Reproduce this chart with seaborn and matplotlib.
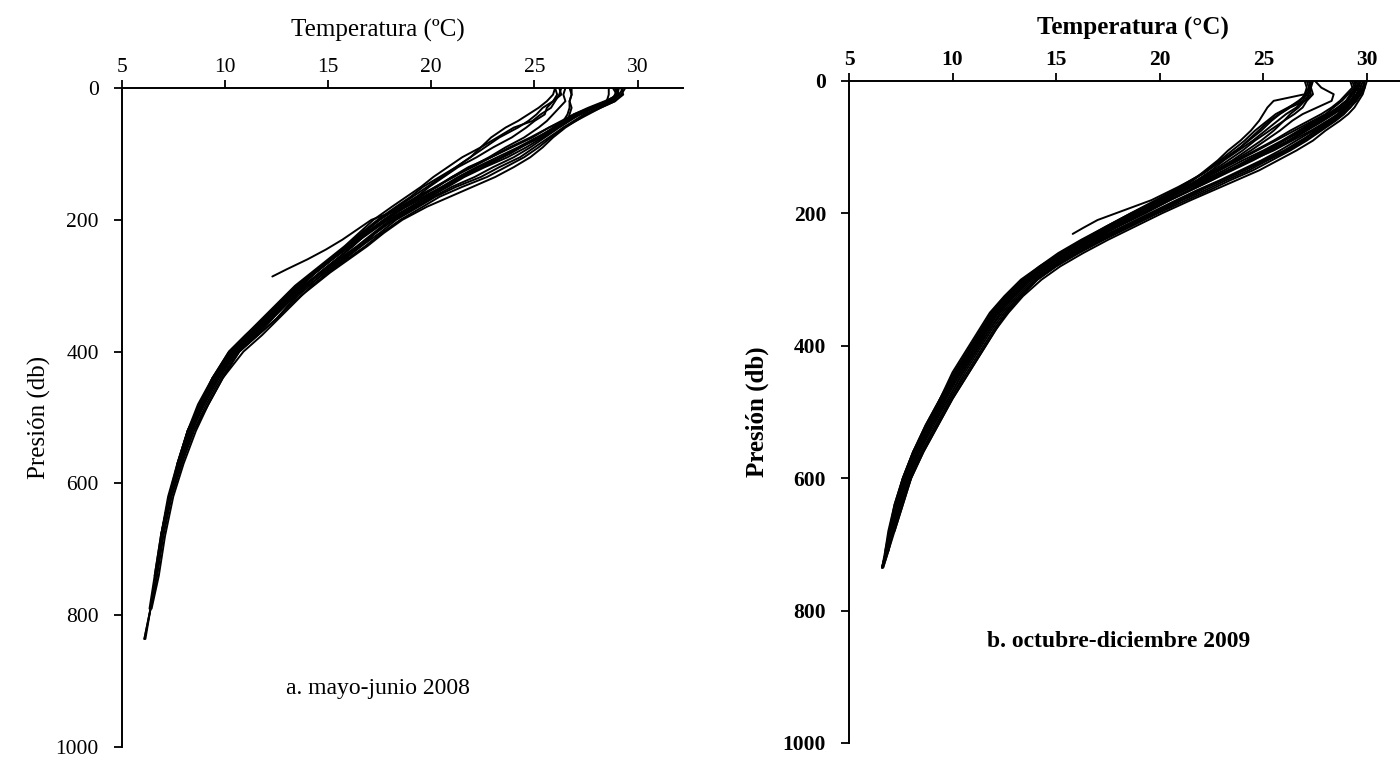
import numpy as np
import pandas as pd
import seaborn as sns
import matplotlib.pyplot as plt

sns.set_theme(style="ticks")
plt.rcParams['font.family'] = ['Liberation Serif', 'DejaVu Serif']
plt.rcParams['axes.edgecolor'] = 'black'
plt.rcParams['xtick.color'] = 'black'
plt.rcParams['ytick.color'] = 'black'
plt.rcParams['text.color'] = 'black'
plt.rcParams['axes.labelcolor'] = 'black'

# ---------------- panel a: mayo-junio 2008 ----------------
presion_a = [0, 10, 20, 30, 40, 50, 60, 75, 90, 105, 120, 135, 150, 165, 180, 200, 220, 240,
             260, 280, 300, 325, 350, 375, 400, 440, 480, 520, 570, 620, 680, 740, 790, 836]

a01 = [29.1, 29.0, 28.6, 27.9, 27.2, 26.7, 26.2, 25.5, 24.8, 24.0, 23.0, 22.1, 21.0, 20.1, 19.3, 18.2, 17.3, 16.6, 15.7, 14.8, 14.1, 13.2, 12.5, 11.6, 10.7, 9.8, 9.1, 8.5, 7.9, 7.4, 7.0, 6.7, 6.4, 6.1]
a02 = [29.3, 29.1, 28.8, 28.1, 27.4, 26.9, 26.4, 25.8, 25.2, 24.5, 23.6, 22.7, 21.5, 20.4, 19.6, 18.5, 17.6, 16.8, 15.9, 15.0, 14.2, 13.4, 12.6, 11.8, 10.9, 9.9, 9.2, 8.6, 8.0, 7.5, 7.1, 6.8, 6.45]
a03 = [28.9, 29.1, 28.4, 27.6, 26.9, 26.4, 25.9, 25.2, 24.3, 23.4, 22.3, 21.4, 20.6, 19.8, 19.0, 17.9, 17.0, 16.1, 15.2, 14.4, 13.7, 12.8, 12.0, 11.2, 10.4, 9.6, 8.9, 8.3, 7.8, 7.3, 6.95, 6.65]
a04 = [28.6, 28.6, 28.5, 27.8, 27.1, 26.6, 26.1, 25.4, 24.6, 23.7, 22.6, 21.6, 20.8, 19.9, 19.2, 18.1, 17.3, 16.5, 15.6, 14.7, 13.8, 12.9, 12.2, 11.3, 10.5, 9.6, 8.9, 8.3, 7.8, 7.3, 6.9]
a05 = [29.2, 29.3, 28.9, 28.2, 27.5, 27.0, 26.5, 25.9, 25.4, 24.8, 24.0, 23.1, 22.0, 20.9, 19.8, 18.6, 17.7, 16.9, 16.0, 15.1, 14.3, 13.3, 12.5, 11.6, 10.7, 9.9, 9.2, 8.5, 7.9, 7.4, 7.0, 6.7, 6.4, 6.15]
a06 = [29.0, 28.9, 28.7, 27.8, 27.0, 26.5, 26.0, 25.1, 24.2, 23.2, 22.2, 21.3, 20.5, 19.7, 18.8, 17.8, 16.9, 16.2, 15.4, 14.6, 13.8, 12.9, 12.1, 11.3, 10.4, 9.5, 8.8, 8.3, 7.8, 7.3, 6.95]
a07 = [29.4, 29.2, 28.9, 28.2, 27.6, 27.0, 26.4, 25.7, 25.0, 24.3, 23.3, 22.4, 21.2, 20.2, 19.4, 18.3, 17.5, 16.6, 15.8, 14.9, 14.0, 13.1, 12.3, 11.5, 10.6, 9.7, 9.0, 8.4, 7.9, 7.35]
a08 = [28.8, 29.0, 28.5, 27.7, 26.9, 26.3, 25.7, 24.9, 23.9, 22.9, 21.8, 21.0, 20.2, 19.3, 18.5, 17.5, 16.7, 15.9, 15.1, 14.3, 13.5, 12.7, 11.9, 11.0, 10.2, 9.4, 8.8, 8.2, 7.75]
a09 = [26.0, 26.1, 25.9, 25.6, 25.5, 25.0, 24.6, 23.9, 23.0, 22.2, 21.3, 20.6, 19.9, 19.3, 18.6, 17.7, 16.9, 16.2, 15.4, 14.6, 13.9, 13.0, 12.3, 11.5, 10.6, 9.7, 9.0, 8.4, 7.9, 7.4, 7.0, 6.7, 6.4]
a10 = [26.2, 26.3, 25.9, 25.4, 25.1, 24.7, 24.2, 23.3, 22.6, 21.9, 21.2, 20.4, 19.6, 19.0, 18.3, 17.4, 16.6, 15.9, 15.1, 14.3, 13.6, 12.8, 12.0, 11.2, 10.3, 9.5, 8.8, 8.2, 7.7, 7.25, 6.9, 6.6]
a11 = [26.5, 26.4, 26.5, 26.2, 25.9, 25.6, 25.2, 24.5, 23.6, 22.8, 21.9, 21.1, 20.2, 19.5, 18.7, 17.8, 16.9, 16.0, 15.2, 14.4, 13.7, 12.9, 12.0, 11.2, 10.4, 9.5, 8.9, 8.3, 7.8, 7.3]
a12 = [26.8, 26.8, 26.7, 26.8, 26.7, 26.6, 26.0, 25.3, 24.3, 23.4, 22.5, 21.5, 20.7, 20.0, 19.1, 18.0, 17.2, 16.4, 15.5, 14.7, 13.9, 13.0, 12.2, 11.4, 10.5, 9.6, 8.9, 8.4, 7.9, 7.4, 7.0, 6.7, 6.4, 6.1]
a13 = [26.7, 26.8, 26.7, 26.7, 26.6, 26.4, 25.7, 24.8, 23.8, 22.9, 22.0, 21.0, 20.3, 19.4, 18.7, 17.7, 16.8, 16.0, 15.2, 14.4, 13.6, 12.8, 12.0, 11.2, 10.3, 9.5, 8.8, 8.3, 7.8, 7.3, 6.9, 6.6, 6.35]
a14 = [26.3, 26.2, 26.0, 25.8, 25.3, 24.9, 24.0, 23.2, 22.4, 21.5, 20.8, 20.1, 19.5, 18.8, 18.1, 17.2, 16.5, 15.8, 15.0, 14.2, 13.4, 12.6, 11.8, 11.0, 10.2, 9.4, 8.7, 8.2, 7.7]
a15 = [26.0, 25.9, 25.6, 25.2, 24.7, 24.2, 23.6, 22.9, 22.4, 21.9, 21.2, 20.5, 19.8, 19.1, 18.4, 17.5, 16.7, 15.9, 15.1, 14.3, 13.5, 12.7, 11.9, 11.1, 10.3, 9.4, 8.8, 8.2, 7.7, 7.3, 6.9]
# short profile ending near 286 db
presion_a16 = [0, 10, 20, 30, 45, 60, 80, 100, 120, 140, 160, 180, 200, 215, 230, 245, 260, 275, 286]
a16 = [29.0, 29.1, 28.7, 27.9, 26.9, 26.0, 24.9, 23.8, 22.5, 21.2, 19.9, 18.8, 17.1, 16.4, 15.7, 14.9, 14.0, 13.0, 12.3]

perfiles_a = [(presion_a, a01), (presion_a, a02), (presion_a, a03), (presion_a, a04),
              (presion_a, a05), (presion_a, a06), (presion_a, a07), (presion_a, a08),
              (presion_a, a09), (presion_a, a10), (presion_a, a11), (presion_a, a12),
              (presion_a, a13), (presion_a, a14), (presion_a, a15), (presion_a16, a16)]

# ---------------- panel b: octubre-diciembre 2009 ----------------
presion_b = [0, 10, 20, 30, 40, 50, 60, 75, 90, 105, 120, 135, 150, 165, 180, 200, 220, 240,
             260, 280, 300, 325, 350, 375, 400, 440, 480, 520, 560, 600, 640, 680, 710, 735]

b01 = [29.9, 29.8, 29.7, 29.5, 29.2, 28.9, 28.5, 27.8, 27.1, 26.3, 25.4, 24.5, 23.4, 22.4, 21.3, 19.9, 18.6, 17.3, 16.1, 15.0, 14.1, 13.3, 12.6, 12.1, 11.6, 10.8, 10.0, 9.3, 8.6, 8.0, 7.6, 7.2, 6.9, 6.65]
b02 = [29.4, 29.5, 29.2, 29.0, 28.6, 28.1, 27.5, 26.7, 25.9, 25.0, 24.0, 23.1, 22.1, 21.2, 20.2, 18.9, 17.7, 16.5, 15.3, 14.3, 13.4, 12.6, 11.9, 11.4, 10.9, 10.1, 9.5, 8.8, 8.2, 7.7, 7.3, 7.0, 6.8, 6.6]
b03 = [29.7, 29.6, 29.5, 29.3, 29.1, 28.7, 28.3, 27.5, 26.9, 26.1, 25.1, 24.1, 23.0, 21.9, 20.9, 19.6, 18.3, 17.0, 15.8, 14.8, 13.9, 13.1, 12.4, 11.8, 11.3, 10.5, 9.8, 9.1, 8.4, 7.9, 7.5, 7.1, 6.9]
b04 = [29.3, 29.4, 29.1, 28.8, 28.4, 28.0, 27.4, 26.5, 25.6, 24.7, 23.8, 22.9, 22.0, 21.0, 20.0, 18.7, 17.5, 16.4, 15.3, 14.3, 13.5, 12.7, 12.0, 11.5, 11.0, 10.2, 9.5, 8.9, 8.2, 7.7, 7.3]
b05 = [30.0, 29.9, 29.8, 29.6, 29.4, 29.1, 28.7, 28.0, 27.4, 26.6, 25.7, 24.8, 23.7, 22.6, 21.5, 20.1, 18.8, 17.5, 16.3, 15.2, 14.3, 13.4, 12.7, 12.1, 11.6, 10.8, 10.0, 9.3, 8.6, 8.0, 7.6, 7.2]
b06 = [29.5, 29.6, 29.3, 29.1, 28.8, 28.3, 27.8, 27.0, 26.2, 25.3, 24.3, 23.4, 22.4, 21.4, 20.4, 19.1, 17.8, 16.6, 15.5, 14.5, 13.6, 12.8, 12.1, 11.6, 11.1, 10.3, 9.6, 8.9, 8.3, 7.8, 7.4, 7.05, 6.8, 6.6]
b07 = [29.8, 29.7, 29.6, 29.4, 29.0, 28.6, 28.2, 27.4, 26.6, 25.8, 24.9, 23.9, 22.9, 21.8, 20.8, 19.5, 18.2, 16.9, 15.7, 14.7, 13.8, 13.0, 12.3, 11.8, 11.3, 10.5, 9.8, 9.0, 8.4, 7.9, 7.5]
b08 = [29.2, 29.3, 29.0, 28.7, 28.3, 27.8, 27.2, 26.3, 25.5, 24.6, 23.7, 22.8, 21.9, 20.9, 19.9, 18.6, 17.4, 16.2, 15.1, 14.2, 13.3, 12.5, 11.8, 11.3, 10.8, 10.0, 9.4, 8.7, 8.1, 7.6, 7.2, 6.95, 6.75, 6.6]
b09 = [29.6, 29.7, 29.5, 29.2, 28.9, 28.4, 27.9, 27.1, 26.3, 25.4, 24.5, 23.5, 22.5, 21.5, 20.5, 19.2, 17.9, 16.7, 15.5, 14.5, 13.6, 12.8, 12.1, 11.6, 11.1, 10.3, 9.6, 8.9, 8.3, 7.8]
b10 = [29.9, 29.8, 29.6, 29.3, 29.0, 28.7, 28.3, 27.6, 26.8, 26.0, 25.0, 24.0, 23.0, 22.0, 21.0, 19.7, 18.4, 17.1, 15.9, 14.9, 14.0, 13.2, 12.5, 11.9, 11.4, 10.6, 9.9, 9.2, 8.5, 8.0, 7.5, 7.15, 6.9, 6.65]
b11 = [29.4, 29.5, 29.3, 29.0, 28.7, 28.2, 27.7, 26.9, 26.0, 25.1, 24.2, 23.3, 22.3, 21.2, 20.2, 18.9, 17.6, 16.4, 15.4, 14.4, 13.5, 12.7, 12.0, 11.5, 11.0, 10.2, 9.5, 8.8, 8.2, 7.7, 7.3, 7.0]
b12 = [29.7, 29.5, 29.4, 29.2, 28.9, 28.6, 28.1, 27.3, 26.4, 25.5, 24.4, 23.3, 22.2, 21.1, 20.1, 18.8, 17.6, 16.5, 15.4, 14.4, 13.6, 12.8, 12.1, 11.6, 11.1, 10.3, 9.6, 8.9, 8.3]
b13 = [29.5, 29.4, 29.3, 29.0, 28.6, 28.2, 27.6, 26.8, 26.0, 25.2, 24.3, 23.4, 22.5, 21.5, 20.5, 19.3, 18.0, 16.8, 15.6, 14.6, 13.7, 12.9, 12.2, 11.7, 11.2, 10.4, 9.7, 9.0, 8.3, 7.8, 7.4, 7.1, 6.85]
b14 = [29.8, 29.9, 29.7, 29.4, 29.2, 28.8, 28.4, 27.7, 27.0, 26.2, 25.2, 24.3, 23.2, 22.2, 21.1, 19.8, 18.5, 17.2, 16.0, 15.0, 14.1, 13.3, 12.6, 12.0, 11.5, 10.7, 9.9, 9.2, 8.5, 7.95, 7.5, 7.15]
b15 = [27.1, 27.2, 27.0, 25.5, 25.2, 25.0, 24.8, 24.4, 23.9, 23.3, 22.8, 22.2, 21.6, 20.9, 20.1, 19.0, 17.8, 16.6, 15.4, 14.4, 13.5, 12.7, 12.0, 11.5, 11.0, 10.2, 9.5, 8.8, 8.2, 7.7, 7.3, 7.0, 6.8, 6.6]
b16 = [27.3, 27.3, 27.2, 27.0, 26.3, 25.8, 25.4, 24.9, 24.3, 23.7, 23.0, 22.3, 21.5, 20.7, 19.8, 18.6, 17.4, 16.3, 15.2, 14.2, 13.4, 12.6, 11.9, 11.4, 10.9, 10.1, 9.4, 8.8, 8.1, 7.6, 7.25]
b17 = [27.4, 27.3, 27.4, 27.1, 26.9, 26.5, 26.0, 25.3, 24.6, 24.0, 23.3, 22.6, 21.8, 21.0, 20.1, 18.8, 17.6, 16.5, 15.4, 14.4, 13.5, 12.7, 12.0, 11.5, 11.0, 10.2, 9.5, 8.9, 8.2, 7.7]
b18 = [27.5, 27.8, 28.4, 28.3, 27.6, 26.9, 26.4, 25.8, 25.1, 24.4, 23.6, 22.8, 22.0, 21.1, 20.2, 19.0, 17.7, 16.6, 15.5, 14.5, 13.6, 12.8, 12.1, 11.6, 11.1, 10.3, 9.6, 8.9, 8.3, 7.8, 7.4, 7.1]
b19 = [27.0, 27.1, 27.0, 26.8, 26.2, 25.6, 25.2, 24.6, 24.1, 23.5, 22.9, 22.3, 21.6, 20.8, 20.0, 18.8, 17.6, 16.4, 15.3, 14.3, 13.4, 12.6, 11.9, 11.4, 10.9, 10.1, 9.4, 8.7, 8.1, 7.6, 7.2, 6.9, 6.75]
b20 = [27.2, 27.3, 27.1, 26.9, 26.6, 26.1, 25.7, 25.1, 24.5, 23.8, 23.1, 22.5, 21.8, 21.0, 20.2, 19.1, 17.9, 16.7, 15.6, 14.6, 13.7, 12.9, 12.2, 11.7, 11.2, 10.4, 9.6, 8.9, 8.3]
b21 = [27.3, 27.2, 27.3, 27.0, 26.7, 26.3, 26.0, 25.5, 24.9, 24.2, 23.5, 22.7, 21.9, 21.1, 20.3, 19.1, 17.9, 16.8, 15.6, 14.6, 13.7, 12.9, 12.2, 11.6, 11.1, 10.3, 9.6, 9.0, 8.3, 7.8, 7.4, 7.05, 6.8, 6.6]
# short profile ending near 231 db
presion_b22 = [0, 10, 20, 30, 45, 60, 80, 100, 120, 140, 160, 180, 195, 210, 222, 231]
b22 = [27.2, 27.3, 27.1, 26.7, 26.0, 25.3, 24.6, 23.9, 23.0, 22.1, 20.9, 19.6, 18.3, 17.0, 16.3, 15.8]

perfiles_b = [(presion_b, b) for b in [b01, b02, b03, b04, b05, b06, b07, b08, b09, b10, b11,
                                        b12, b13, b14, b15, b16, b17, b18, b19, b20, b21]]
perfiles_b.append((presion_b22, b22))

ticks_x = [5, 10, 15, 20, 25, 30]
ticks_y = [0, 200, 400, 600, 800, 1000]


def tabla(perfiles):
    partes = []
    for i, (pres, temp) in enumerate(perfiles):
        n = len(temp)
        partes.append(pd.DataFrame({'perfil': i, 'temperatura': temp, 'presion': pres[:n]}))
    return pd.concat(partes, ignore_index=True)


df_a = tabla(perfiles_a)
df_b = tabla(perfiles_b)

fig = plt.figure(figsize=(14, 7.57), dpi=100)
ax1 = fig.add_axes([0.0869, 0.0132, 0.401, 0.8705])
ax2 = fig.add_axes([0.6064, 0.0185, 0.3936, 0.8745])


def estilo(ax, df, xmax, weight, xlabel, xlab_pos, ylab_pos):
    sns.lineplot(data=df, x='temperatura', y='presion', units='perfil', estimator=None,
                 sort=False, color='black', lw=1.4, ax=ax, legend=False)
    ax.set_xlim(5, xmax)
    ax.set_ylim(1000, 0)
    ax.xaxis.tick_top()
    ax.xaxis.set_label_position('top')
    ax.set_xticks(ticks_x)
    ax.set_yticks(ticks_y)
    ax.set_xticklabels([str(t) for t in ticks_x], fontweight=weight)
    ax.set_yticklabels([str(t) for t in ticks_y], fontweight=weight)
    for s in ['right', 'bottom']:
        ax.spines[s].set_visible(False)
    for s in ['left', 'top']:
        ax.spines[s].set_linewidth(1.4)
        ax.spines[s].set_color('black')
    ax.tick_params(axis='x', length=6, width=1.3, pad=2, labelsize=15.5)
    ax.tick_params(axis='y', length=5.5, width=1.3, pad=11, labelsize=15.5)
    ax.set_xlabel(xlabel, fontsize=18, fontweight=weight, va='center')
    ax.set_ylabel('Presión (db)', fontsize=18, fontweight=weight, va='center')
    ax.xaxis.set_label_coords(*xlab_pos)
    ax.yaxis.set_label_coords(*ylab_pos)
    ax.set_facecolor('white')


estilo(ax1, df_a, 32.2, 'normal', 'Temperatura (ºC)', (0.457, 1.088), (-0.146, 0.5))
estilo(ax2, df_b, 31.6, 'bold', 'Temperatura (°C)', (0.515, 1.080), (-0.167, 0.5))

ax1.text(17.4, 911, 'a. mayo-junio 2008', ha='center', va='center', fontsize=17)
ax2.text(18.0, 847, 'b. octubre-diciembre 2009', ha='center', va='center', fontsize=17,
         fontweight='bold')

fig.savefig('out.png', dpi=100, facecolor='white')
